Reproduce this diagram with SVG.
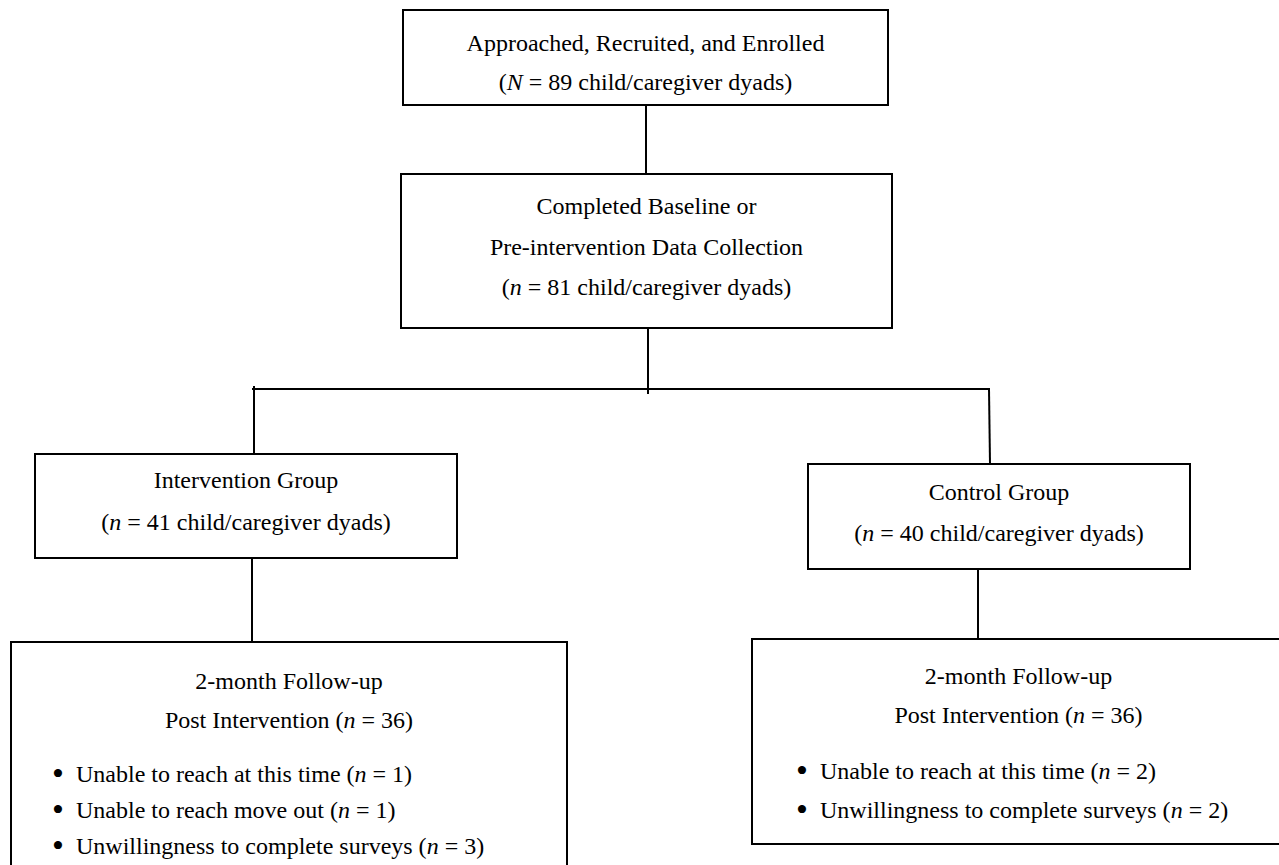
<svg xmlns="http://www.w3.org/2000/svg" width="1279" height="865" viewBox="0 0 1279 865">
<style>
.box{fill:#fff;stroke:#000;stroke-width:2}
.ln{stroke:#000;stroke-width:2;fill:none}
text{font-family:"Liberation Serif","Times New Roman",serif;font-size:24px;fill:#000}
.c{text-anchor:middle}
.i{font-style:italic}
.b{font-size:34px}
</style>
<rect width="1279" height="865" fill="#fff"/>
<g id="connectors">
<line class="ln" x1="646" y1="105" x2="646" y2="174"/>
<line class="ln" x1="648" y1="328" x2="648" y2="394"/>
<line class="ln" x1="252" y1="389" x2="990" y2="389"/>
<line class="ln" x1="254" y1="386" x2="254" y2="454"/>
<line class="ln" x1="989" y1="389" x2="990" y2="464"/>
<line class="ln" x1="252" y1="558" x2="252" y2="642"/>
<line class="ln" x1="978" y1="569" x2="978" y2="639"/>
</g>
<g id="enrolled">
<rect class="box" x="403" y="10" width="485" height="95"/>
<text class="c" x="645.5" y="51">Approached, Recruited, and Enrolled</text>
<text class="c" x="645.5" y="90">(<tspan class="i">N</tspan> = 89 child/caregiver dyads)</text>
</g>
<g id="baseline">
<rect class="box" x="401" y="174" width="491" height="154"/>
<text class="c" x="646.5" y="214">Completed Baseline or</text>
<text class="c" x="646.5" y="255">Pre-intervention Data Collection</text>
<text class="c" x="646.5" y="295">(<tspan class="i">n</tspan> = 81 child/caregiver dyads)</text>
</g>
<g id="intervention">
<rect class="box" x="35" y="454" width="422" height="104"/>
<text class="c" x="246" y="488">Intervention Group</text>
<text class="c" x="246" y="530">(<tspan class="i">n</tspan> = 41 child/caregiver dyads)</text>
</g>
<g id="control">
<rect class="box" x="808" y="464" width="382" height="105"/>
<text class="c" x="999" y="500">Control Group</text>
<text class="c" x="999" y="541">(<tspan class="i">n</tspan> = 40 child/caregiver dyads)</text>
</g>
<g id="followup-intervention">
<rect class="box" x="11" y="642" width="556" height="240"/>
<text class="c" x="289" y="689">2-month Follow-up</text>
<text class="c" x="289" y="728">Post Intervention (<tspan class="i">n</tspan> = 36)</text>
<text class="b" x="52" y="785">•</text><text x="76" y="782">Unable to reach at this time (<tspan class="i">n</tspan> = 1)</text>
<text class="b" x="52" y="821">•</text><text x="76" y="818">Unable to reach move out (<tspan class="i">n</tspan> = 1)</text>
<text class="b" x="52" y="857">•</text><text x="76" y="854">Unwillingness to complete surveys (<tspan class="i">n</tspan> = 3)</text>
</g>
<g id="followup-control">
<rect class="box" x="752" y="639" width="533" height="205"/>
<text class="c" x="1018.5" y="684">2-month Follow-up</text>
<text class="c" x="1018.5" y="723">Post Intervention (<tspan class="i">n</tspan> = 36)</text>
<text class="b" x="796" y="782">•</text><text x="820" y="779">Unable to reach at this time (<tspan class="i">n</tspan> = 2)</text>
<text class="b" x="796" y="821">•</text><text x="820" y="818">Unwillingness to complete surveys (<tspan class="i">n</tspan> = 2)</text>
</g>
</svg>
